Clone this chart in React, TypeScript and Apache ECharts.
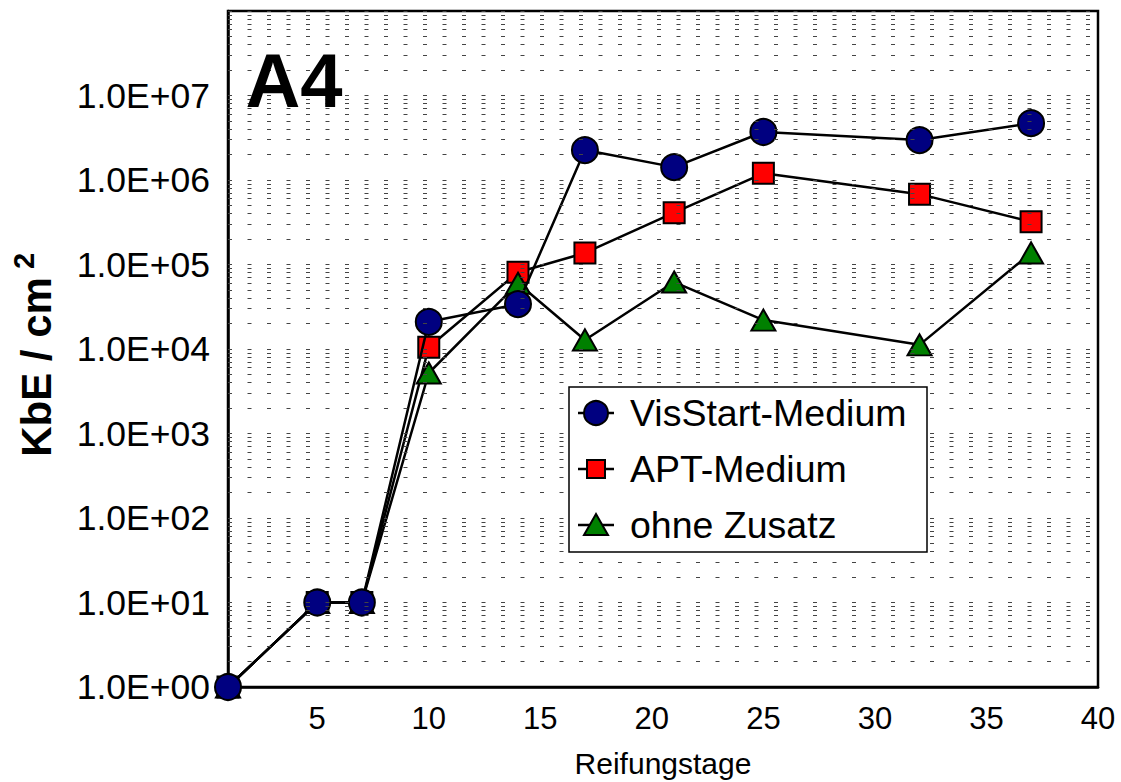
import React, { useEffect, useRef } from "react";
import * as echarts from "echarts";

const days = [1, 5, 7, 10, 14, 17, 21, 25, 32, 37];
const visStart = [1, 10, 10, 2.1e4, 3.4e4, 2.26e6, 1.42e6, 3.7e6, 2.97e6, 4.7e6];
const aptMedium = [1, 10, 10, 1.05e4, 8.1e4, 1.37e5, 4.1e5, 1.2e6, 6.8e5, 3.2e5];
const ohneZusatz = [1, 10, 10, 5.2e3, 6.0e4, 1.28e4, 6.2e4, 2.2e4, 1.12e4, 1.37e5];
const seriesNames = ["VisStart-Medium", "APT-Medium", "ohne Zusatz"];
const seriesColors = ["#000080", "#ff0000", "#008000"];
const xTickLabels = [5, 10, 15, 20, 25, 30, 35, 40];
const gridMultipliers = [1, 2, 3, 4, 5, 6, 7, 8, 9];
const gridDecades = [0, 1, 2, 3, 4, 5, 6, 7];

const FONT = "'Liberation Sans', Arial, sans-serif";

function fmtExp(v: number): string {
  if (v >= 1e8 - 1) return "";
  const s = v.toExponential(1).toUpperCase();
  const [m, e] = s.split("E");
  const sign = e[0] === "-" ? "-" : "+";
  const digits = e.replace(/[+-]/, "").padStart(2, "0");
  return m + "E" + sign + digits;
}

function legendGraphics(): any[] {
  const boxX = 569;
  const boxY = 387;
  const items: any[] = [
    {
      type: "rect",
      z: 20,
      shape: { x: boxX, y: boxY, width: 358, height: 165 },
      style: { fill: "#fff", stroke: "#000", lineWidth: 1.5 },
    },
  ];
  seriesNames.forEach((name, i) => {
    const cy = 413 + 56 * i;
    const cx = 596;
    items.push({
      type: "line",
      z: 21,
      shape: { x1: 578, y1: cy, x2: 614, y2: cy },
      style: { stroke: "#000", lineWidth: 2.5 },
    });
    const st = { fill: seriesColors[i], stroke: "#000", lineWidth: 2 };
    if (i === 0) {
      items.push({ type: "circle", z: 22, shape: { cx, cy, r: 12 }, style: st });
    } else if (i === 1) {
      items.push({ type: "rect", z: 22, shape: { x: cx - 9, y: cy - 9, width: 18, height: 18 }, style: st });
    } else {
      items.push({
        type: "polygon",
        z: 22,
        shape: { points: [[cx, cy - 11], [cx + 12, cy + 10], [cx - 12, cy + 10]] },
        style: st,
      });
    }
    items.push({
      type: "text",
      z: 22,
      x: 630,
      y: cy,
      style: {
        text: name,
        font: "37.5px " + FONT,
        fill: "#000",
        textAlign: "left",
        textVerticalAlign: "middle",
      },
    });
  });
  return items;
}

export default function App() {
  const ref = useRef<HTMLDivElement>(null);
  useEffect(() => {
    if (!ref.current) return;
    const chart = echarts.init(ref.current, null, { renderer: "svg" });
    const gridValues: number[] = [];
    gridDecades.forEach((d) =>
      gridMultipliers.forEach((m) => {
        const v = m * Math.pow(10, d);
        if (v > 1) gridValues.push(v);
      })
    );
    gridValues.push(1e8);
    const pair = (arr: number[]) => days.map((d, i) => [d, arr[i]]);
    const lineStyle = { color: "#000", width: 2.5 };
    const option: any = {
      animation: false,
      backgroundColor: "#fff",
      textStyle: { fontFamily: FONT },
      grid: {
        left: 228,
        right: 23,
        top: 11,
        bottom: 95,
        show: true,
        borderColor: "#000",
        borderWidth: 2.5,
        backgroundColor: "transparent",
        containLabel: false,
        outerBoundsMode: "none",
      },
      xAxis: {
        type: "value",
        min: 1,
        max: 40,
        interval: 1,
        axisLine: { show: true, lineStyle: { color: "#000", width: 2.5 } },
        axisTick: { show: false },
        splitLine: { show: false },
        axisLabel: {
          color: "#000",
          fontSize: 31,
          fontFamily: FONT,
          margin: 16,
          formatter: (v: number) => (xTickLabels.includes(v) ? String(v) : ""),
        },
        name: "Reifungstage",
        nameLocation: "middle",
        nameGap: 61,
        nameTextStyle: { color: "#000", fontSize: 30, fontFamily: FONT },
      },
      yAxis: {
        type: "log",
        logBase: 10,
        min: 1,
        max: 1e8,
        axisLine: { show: true, lineStyle: { color: "#000", width: 2.5 } },
        axisTick: { show: false },
        splitLine: { show: false },
        minorSplitLine: { show: false },
        axisLabel: {
          color: "#000",
          fontSize: 35.5,
          fontFamily: FONT,
          margin: 18,
          formatter: fmtExp,
        },
      },
      graphic: [
        {
          type: "text",
          x: 294,
          y: 80,
          style: {
            text: "A4",
            font: "bold 76px " + FONT,
            fill: "#000",
            textAlign: "center",
            textVerticalAlign: "middle",
          },
          z: 10,
        },
        {
          type: "text",
          x: 36,
          y: 367,
          rotation: Math.PI / 2,
          style: {
            text: "KbE / cm",
            font: "bold 42px " + FONT,
            fill: "#000",
            textAlign: "center",
            textVerticalAlign: "middle",
          },
        },
        {
          type: "text",
          x: 24,
          y: 261,
          rotation: Math.PI / 2,
          style: {
            text: "2",
            font: "bold 29px " + FONT,
            fill: "#000",
            textAlign: "center",
            textVerticalAlign: "middle",
          },
        },
        ...legendGraphics(),
      ],
      series: [
        {
          name: "__grid",
          type: "line",
          data: [],
          silent: true,
          z: 1,
          markLine: {
            silent: true,
            symbol: ["none", "none"],
            label: { show: false },
            lineStyle: { color: "#444", type: [4, 15.5], width: 1 },
            emphasis: { disabled: true },
            data: gridValues.map((v) => ({ yAxis: v })),
          },
        },
        {
          name: seriesNames[2],
          type: "line",
          z: 3,
          data: pair(ohneZusatz),
          symbol: "triangle",
          symbolSize: [24, 21],
          lineStyle,
          itemStyle: { color: seriesColors[2], borderColor: "#000", borderWidth: 2 },
          emphasis: { disabled: true },
        },
        {
          name: seriesNames[1],
          type: "line",
          z: 2,
          data: pair(aptMedium),
          symbol: "rect",
          symbolSize: 21,
          lineStyle,
          itemStyle: { color: seriesColors[1], borderColor: "#000", borderWidth: 2 },
          emphasis: { disabled: true },
        },
        {
          name: seriesNames[0],
          type: "line",
          z: 4,
          data: pair(visStart),
          symbol: "circle",
          symbolSize: 26,
          lineStyle,
          itemStyle: { color: seriesColors[0], borderColor: "#000", borderWidth: 2 },
          emphasis: { disabled: true },
        },
      ],
    };
    chart.setOption(option);
    return () => chart.dispose();
  }, []);
  return (
    <div
      ref={ref}
      style={{ position: "fixed", left: 0, top: 0, width: 1121, height: 782, background: "#fff" }}
    />
  );
}
